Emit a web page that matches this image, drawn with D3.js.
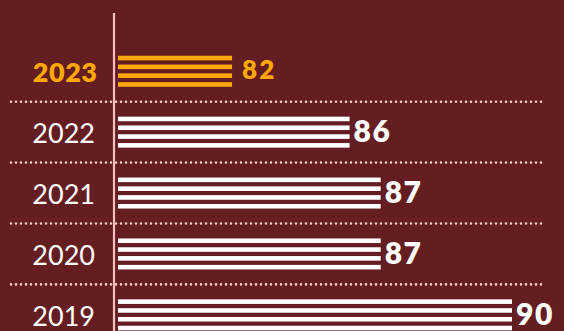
<!DOCTYPE html>
<html>
<head>
<meta charset="utf-8">
<script src="https://cdn.jsdelivr.net/npm/d3@7"></script>
<style>
  html, body { margin: 0; padding: 0; background: #641e21; }
  svg { display: block; }
</style>
</head>
<body>
<div class="chart"></div>
<script>
// years shown top to bottom, and the values behind each bar
const years = ["2023", "2022", "2021", "2020", "2019"];
const values = [82.3, 85.7, 86.6, 86.6, 90.4];
const highlight = "2023";

const width = 564;
const height = 331;
const bg = "#641e21";
const orange = "#ffa800";
const pink = "#f4bcbc";

const svg = d3.select(".chart")
    .append("svg")
    .attr("width", width)
    .attr("height", height);

svg.append("rect")
    .attr("width", width)
    .attr("height", height)
    .attr("fill", bg);

// x scale: bars start just right of the axis line
const x = d3.scaleLinear()
    .domain([79, 90.4])
    .range([118, 512]);

// one row per year
const y = d3.scaleBand()
    .domain(years)
    .range([40.8, 40.8 + years.length * 60.9]);

const barH = 31;
// each bar is split into 4 thin stripes
const stripe = d3.scaleBand()
    .domain([0, 1, 2, 3])
    .range([0, barH])
    .paddingInner(0.48);

const rows = years.map((yr, i) => ({ year: yr, value: values[i] }));
const isHi = d => d.year === highlight;

// dotted separators between rows
svg.append("g")
    .selectAll("line")
    .data(years.slice(1))
    .join("line")
        .attr("x1", 11)
        .attr("x2", 545)
        .attr("y1", d => y(d))
        .attr("y2", d => y(d))
        .attr("stroke", "#f8cccc")
        .attr("stroke-width", 2.6)
        .attr("stroke-linecap", "round")
        .attr("stroke-dasharray", "0,5");

// vertical axis line
svg.append("line")
    .attr("x1", 114)
    .attr("x2", 114)
    .attr("y1", 13)
    .attr("y2", height)
    .attr("stroke", pink)
    .attr("stroke-width", 2.2);

const row = svg.append("g")
    .selectAll("g")
    .data(rows)
    .join("g")
        .attr("transform", d => `translate(0, ${y(d.year) + y.bandwidth() / 2})`);

// striped bars
row.each(function(d) {
    d3.select(this).selectAll("rect")
        .data(stripe.domain())
        .join("rect")
            .attr("x", x.range()[0])
            .attr("y", s => -barH / 2 + stripe(s))
            .attr("width", x(d.value) - x.range()[0])
            .attr("height", stripe.bandwidth())
            .attr("fill", isHi(d) ? orange : "#ffffff");
});

// year labels
row.append("text")
    .attr("x", d => isHi(d) ? 97.5 : 95)
    .attr("y", 0)
    .attr("dy", "0.4em")
    .attr("text-anchor", "end")
    .style("font-family", "Lato, sans-serif")
    .style("font-size", "27px")
    .style("font-weight", d => isHi(d) ? 800 : 400)
    .style("letter-spacing", d => isHi(d) ? "0.5px" : "0px")
    .attr("fill", d => isHi(d) ? orange : "#ffffff")
    .text(d => d.year);

// value labels
row.append("text")
    .attr("x", d => x(d.value) + (isHi(d) ? 10 : 4))
    .attr("y", 0)
    .attr("dy", d => isHi(d) ? "0.28em" : "0.34em")
    .style("font-family", "Lato, sans-serif")
    .style("font-size", d => isHi(d) ? "26px" : "30px")
    .style("font-weight", 800)
    .style("letter-spacing", d => isHi(d) ? "2px" : "1.5px")
    .attr("fill", d => isHi(d) ? orange : "#ffffff")
    .text(d => d3.format(".0f")(d.value));
</script>
</body>
</html>
